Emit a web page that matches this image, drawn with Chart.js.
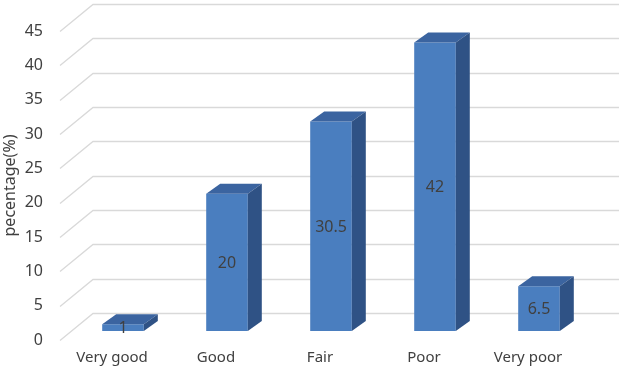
<!DOCTYPE html>
<html>
<head>
<meta charset="utf-8">
<script src="https://cdn.jsdelivr.net/npm/chart.js@4.4.1/dist/chart.umd.min.js"></script>
<style>
  html, body { margin: 0; padding: 0; background: #fff; }
  #wrap { width: 621px; height: 372px; }
</style>
</head>
<body>
<div id="wrap"><canvas id="myChart" width="621" height="372"></canvas></div>
<script>
// categories and values
const categorias = ['Very good', 'Good', 'Fair', 'Poor', 'Very poor'];
const valores = [1, 20, 30.5, 42, 6.5];
const ticksY = [0, 5, 10, 15, 20, 25, 30, 35, 40, 45];

// 3d look: floor depth and bar depth
const profundidad = { dx: 33, dy: 27 };
const barra = { dx: 11, dy: -9, lado: 14, alto: 10 };

const plugin3d = {
  id: 'plugin3d',
  beforeDatasetsDraw(chart) {
    const ctx = chart.ctx;
    const y = chart.scales.y;
    const area = chart.chartArea;
    ctx.save();
    ctx.strokeStyle = '#d9d9d9';
    ctx.lineWidth = 1.3;
    ticksY.forEach(v => {
      const py = Math.round(y.getPixelForValue(v)) + 0.5;
      ctx.beginPath();
      ctx.moveTo(area.left, py);
      ctx.lineTo(area.left + profundidad.dx, py - profundidad.dy);
      ctx.lineTo(619, py - profundidad.dy);
      ctx.stroke();
    });
    ctx.restore();
    // bars stand a third of the way back into the floor
    ctx.save();
    ctx.translate(barra.dx, barra.dy);
  },
  afterDatasetsDraw(chart) {
    const ctx = chart.ctx;
    const meta = chart.getDatasetMeta(0);
    meta.data.forEach((el, i) => {
      const p = el.getProps(['x', 'y', 'base', 'width'], true);
      const l = p.x - p.width / 2;
      const r = p.x + p.width / 2;
      // top
      ctx.fillStyle = '#3b64a0';
      ctx.beginPath();
      ctx.moveTo(l, p.y);
      ctx.lineTo(l + barra.lado, p.y - barra.alto);
      ctx.lineTo(r + barra.lado, p.y - barra.alto);
      ctx.lineTo(r, p.y);
      ctx.closePath();
      ctx.fill();
      // side
      ctx.fillStyle = '#2f5285';
      ctx.beginPath();
      ctx.moveTo(r, p.y);
      ctx.lineTo(r + barra.lado, p.y - barra.alto);
      ctx.lineTo(r + barra.lado, p.base - barra.alto);
      ctx.lineTo(r, p.base);
      ctx.closePath();
      ctx.fill();
      // value label
      ctx.fillStyle = '#404040';
      ctx.font = '16px "Noto Sans", sans-serif';
      ctx.textAlign = 'center';
      ctx.textBaseline = 'middle';
      ctx.fillText(String(valores[i]), p.x, (p.y + p.base) / 2 + 1);
    });
    ctx.restore();
  }
};

const ctx = document.getElementById('myChart').getContext('2d');
const myChart = new Chart(ctx, {
  type: 'bar',
  data: {
    labels: categorias,
    datasets: [{
      label: 'percentage',
      data: valores,
      backgroundColor: '#4a7ebf',
      borderWidth: 0,
      barPercentage: 0.4,
      categoryPercentage: 1
    }]
  },
  options: {
    responsive: false,
    animation: false,
    layout: { padding: { top: 31, right: 41, bottom: 0, left: 0 } },
    plugins: {
      legend: { display: false },
      tooltip: { enabled: false }
    },
    scales: {
      x: {
        grid: { display: false, drawTicks: false },
        border: { display: false },
        ticks: {
          color: '#404040',
          font: { family: 'Noto Sans', size: 15 },
          padding: 9,
          maxRotation: 0
        },
        afterFit(scale) { scale.height = 32; }
      },
      y: {
        min: 0,
        max: 45,
        grid: { display: false, drawTicks: false },
        border: { display: false },
        afterBuildTicks(scale) { scale.ticks = ticksY.map(v => ({ value: v })); },
        ticks: {
          color: '#404040',
          font: { family: 'Noto Sans', size: 16 },
          padding: 17
        },
        title: {
          display: true,
          text: 'pecentage(%)',
          color: '#404040',
          font: { family: 'Noto Sans', size: 16 },
          padding: { top: 1, bottom: 1 }
        },
        afterFit(scale) { scale.width = 60; }
      }
    }
  },
  plugins: [plugin3d]
});
</script>
</body>
</html>
